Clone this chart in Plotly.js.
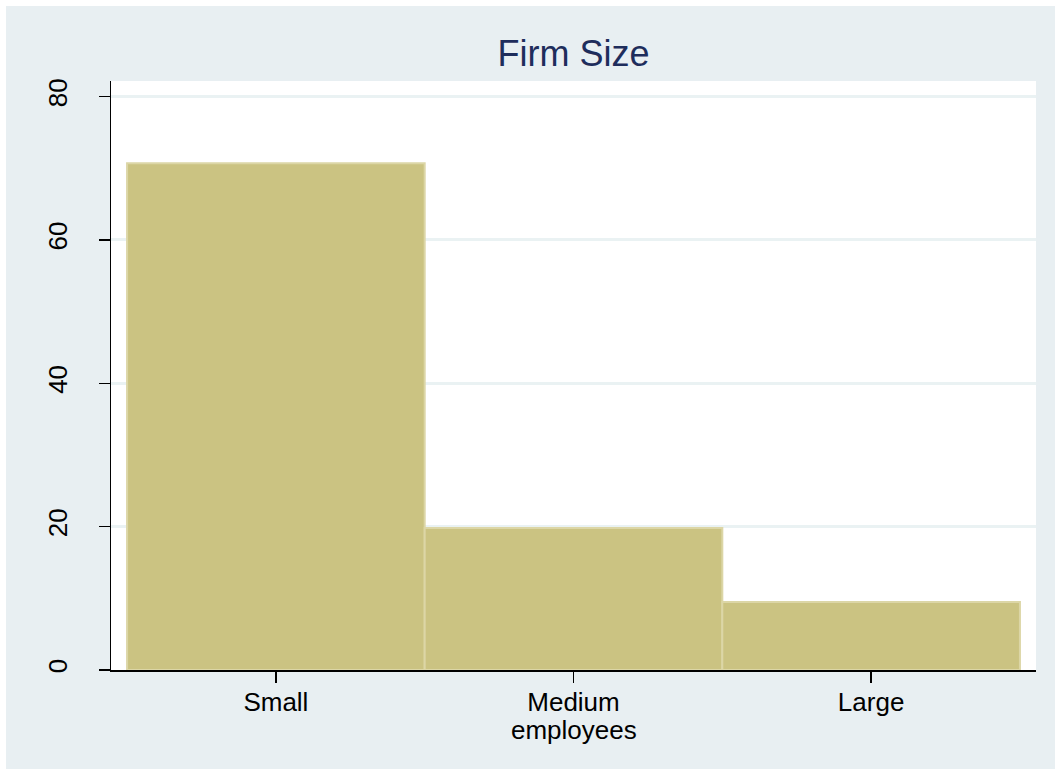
<!DOCTYPE html>
<html>
<head>
<meta charset="utf-8">
<script src="https://cdn.plot.ly/plotly-3.0.1.min.js"></script>
<style>
  html, body { margin: 0; padding: 0; background: #ffffff; overflow: hidden; }
  #chart { position: absolute; left: 6px; top: 6px; width: 1049px; height: 763px; }
</style>
</head>
<body>
<div id="chart"></div>
<script>
const categories = ["Small", "Medium", "Large"];
const categoryPositions = [0, 1, 2];
const percentValues = [70.7, 19.8, 9.5];
const yTickValues = [0, 20, 40, 60, 80];
const chartTitle = "Firm Size";
const xTitle = "employees";

const trace = {
  type: "bar",
  x: categoryPositions,
  y: percentValues,
  width: 1,
  marker: {
    color: "#cbc382",
    line: { color: "#dcd6a6", width: 2 }
  },
  hoverinfo: "skip"
};

const layout = {
  width: 1049,
  height: 763,
  paper_bgcolor: "#e8eff2",
  plot_bgcolor: "#ffffff",
  margin: { l: 105, r: 19, t: 75, b: 99, pad: 0 },
  showlegend: false,
  bargap: 0,
  font: { family: "Arial, 'Liberation Sans', sans-serif", color: "#000000", size: 26 },
  title: {
    text: chartTitle,
    font: { size: 36, color: "#1e2d5c", family: "Arial, 'Liberation Sans', sans-serif" },
    xref: "paper", x: 0.5, xanchor: "center",
    yref: "container", y: 0.9377, yanchor: "middle"
  },
  xaxis: {
    range: [-0.554, 2.554],
    tickmode: "array",
    tickvals: categoryPositions,
    ticktext: categories,
    ticks: "outside",
    ticklen: 11,
    tickwidth: 1.5,
    tickcolor: "#000000",
    ticklabelstandoff: -3,
    showline: true,
    linecolor: "#000000",
    linewidth: 1.5,
    showgrid: false,
    zeroline: false,
    tickfont: { size: 26, color: "#000000" }
  },
  yaxis: {
    range: [0, 82.17],
    tickmode: "array",
    tickvals: yTickValues,
    ticktext: yTickValues.map(String),
    ticks: "outside",
    ticklen: 11,
    tickwidth: 1.5,
    tickcolor: "#000000",
    tickangle: -90,
    ticklabelstandoff: 21,
    showline: true,
    linecolor: "#000000",
    linewidth: 1.5,
    showgrid: true,
    gridcolor: "#eaf2f3",
    gridwidth: 3,
    zeroline: false,
    tickfont: { size: 26, color: "#000000" }
  },
  annotations: [{
    text: xTitle,
    xref: "paper", x: 0.5, xanchor: "center",
    yref: "paper", y: 0, yanchor: "top", yshift: -43,
    showarrow: false,
    font: { size: 26, color: "#000000" }
  }]
};

Plotly.newPlot("chart", [trace], layout, { displayModeBar: false, staticPlot: true });
</script>
</body>
</html>
